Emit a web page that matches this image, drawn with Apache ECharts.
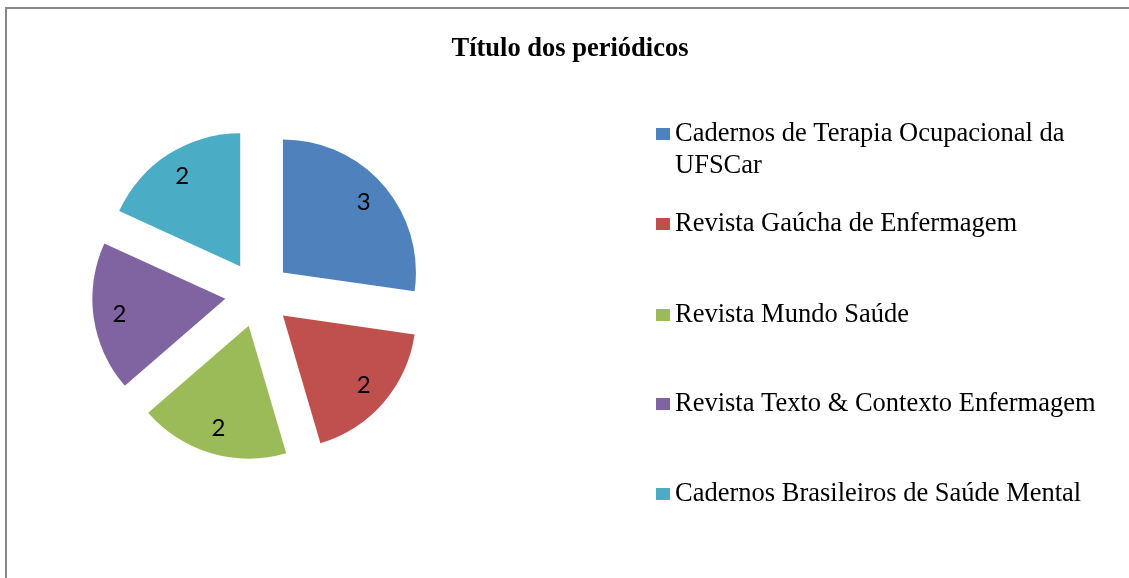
<!DOCTYPE html>
<html>
<head>
<meta charset="utf-8">
<script src="https://cdn.jsdelivr.net/npm/echarts@6/dist/echarts.min.js"></script>
<style>
  html, body { margin: 0; padding: 0; background: #fff; }
  #chart { width: 1129px; height: 578px; }
</style>
</head>
<body>
<div id="chart"></div>
<script>
// periodicals and number of articles in each
var categories = [
  'Cadernos de Terapia Ocupacional da UFSCar',
  'Revista Gaúcha de Enfermagem',
  'Revista Mundo Saúde',
  'Revista Texto & Contexto Enfermagem',
  'Cadernos Brasileiros de Saúde Mental'
];
var values = [3, 2, 2, 2, 2];
var colors = ['#4F81BD', '#C0504D', '#9BBB59', '#8064A2', '#4BACC6'];
var legendCenters = [133, 222, 313, 402, 492];

var chart = echarts.init(document.getElementById('chart'));

var pieData = categories.map(function (name, i) {
  return { name: name, value: values[i], selected: true, itemStyle: { color: colors[i] } };
});
var labelData = categories.map(function (name, i) {
  return { name: name, value: values[i], selected: true };
});

// one legend per entry so each row sits where it does in the original
// (the long first name wraps; a blank leading line keeps the marker on its first line)
var legends = categories.map(function (name, i) {
  var twoLines = i === 0;
  return {
    orient: 'vertical',
    left: 656,
    top: twoLines ? legendCenters[i] - 47 : legendCenters[i] - 14,
    padding: 0,
    itemWidth: 14,
    itemHeight: 12,
    icon: 'rect',
    selectedMode: false,
    data: [name],
    formatter: twoLines ? '\n{name}' : '{name}',
    textStyle: {
      fontFamily: 'Liberation Serif',
      fontSize: 26.5,
      color: '#000',
      lineHeight: 32,
      width: 440,
      overflow: 'break'
    }
  };
});

var options = {
  animation: false,
  title: {
    text: 'Título dos periódicos',
    left: 565,
    top: 31,
    textAlign: 'center',
    textStyle: {
      fontFamily: 'Liberation Serif',
      fontWeight: 'bold',
      fontSize: 26.5,
      color: '#000'
    }
  },
  legend: legends,
  graphic: [{
    type: 'rect',
    silent: true,
    shape: { x: 6, y: 8, width: 1140, height: 600 },
    style: { fill: 'none', stroke: '#888', lineWidth: 2 }
  }],
  series: [{
    type: 'pie',
    center: [258, 294],
    radius: [0, 133],
    startAngle: 90,
    clockwise: true,
    selectedMode: 'multiple',
    selectedOffset: 33,
    silent: true,
    label: { show: false },
    labelLine: { show: false },
    emphasis: { disabled: true },
    data: pieData
  }, {
    // transparent ring only to place the value labels further out
    type: 'pie',
    center: [258, 294],
    radius: [75, 133],
    startAngle: 90,
    clockwise: true,
    selectedMode: 'multiple',
    selectedOffset: 33,
    silent: true,
    itemStyle: { color: 'rgba(0,0,0,0)' },
    label: {
      show: true,
      position: 'inside',
      formatter: '{c}',
      color: '#000',
      fontFamily: 'Lato',
      fontSize: 24
    },
    labelLine: { show: false },
    emphasis: { disabled: true },
    data: labelData
  }]
};

chart.setOption(options);
</script>
</body>
</html>
